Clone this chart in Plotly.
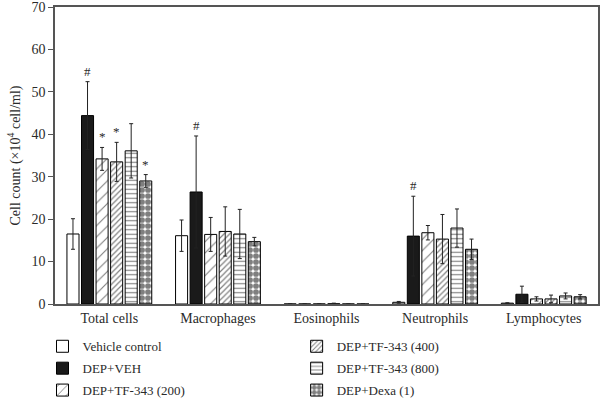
import plotly.graph_objects as go

categories = ["Total cells", "Macrophages", "Eosinophils", "Neutrophils", "Lymphocytes"]

series_names = ["Vehicle control", "DEP+VEH", "DEP+TF-343 (200)",
                "DEP+TF-343 (400)", "DEP+TF-343 (800)", "DEP+Dexa (1)"]

vehicle = [16.5, 16.1, 0.0, 0.4, 0.2]
vehicle_err = [3.6, 3.7, 0.0, 0.2, 0.1]
dep_veh = [44.4, 26.4, 0.0, 16.0, 2.3]
dep_veh_err = [8.0, 13.2, 0.0, 9.4, 1.9]
tf200 = [34.2, 16.4, 0.0, 16.8, 1.2]
tf200_err = [2.7, 4.0, 0.0, 1.7, 0.5]
tf400 = [33.5, 17.1, 0.05, 15.3, 1.2]
tf400_err = [4.6, 5.8, 0.15, 5.8, 0.9]
tf800 = [36.1, 16.5, 0.0, 17.9, 1.9]
tf800_err = [6.4, 5.8, 0.0, 4.5, 0.7]
dexa = [29.0, 14.7, 0.0, 12.9, 1.7]
dexa_err = [1.5, 1.0, 0.0, 2.4, 0.5]

values = [vehicle, dep_veh, tf200, tf400, tf800, dexa]
errors = [vehicle_err, dep_veh_err, tf200_err, tf400_err, tf800_err, dexa_err]

# significance marks: (category, series index, symbol)
marks = [("Total cells", 1, "#"), ("Total cells", 2, "*"), ("Total cells", 3, "*"),
         ("Total cells", 5, "*"), ("Macrophages", 1, "#"), ("Neutrophils", 1, "#")]

y_ticks = [0, 10, 20, 30, 40, 50, 60, 70]

FONT = "Liberation Serif"
INK = "#2a2a2a"
AXIS = "#555555"

patterns = [
    dict(shape=""),
    dict(shape=""),
    dict(shape="/", size=8, solidity=0.14, fgcolor="black", fillmode="overlay"),
    dict(shape="/", size=4, solidity=0.3, fgcolor="black", fillmode="overlay"),
    dict(shape="-", size=4.5, solidity=0.25, fgcolor="black", fillmode="overlay"),
    dict(shape=".", size=6, solidity=0.72, fgcolor="black", fillmode="overlay"),
]
fills = ["white", "#1a1a1a", "white", "white", "white", "white"]
legend_ids = ["legend", "legend", "legend", "legend2", "legend2", "legend2"]

bar_w = 0.111
pitch = 0.134
start = -0.39
offsets = [start + i * pitch for i in range(len(series_names))]

fig = go.Figure()
for i, name in enumerate(series_names):
    fig.add_trace(go.Bar(
        x=categories, y=values[i], name=name,
        width=bar_w, offset=offsets[i],
        marker=dict(color=fills[i], line=dict(color="black", width=1), pattern=patterns[i]),
        error_y=dict(type="data", array=errors[i], visible=True, color="#222222",
                     thickness=1, width=2),
        legend=legend_ids[i], legendgroup=name,
    ))

for cat, si, sym in marks:
    ci = categories.index(cat)
    fig.add_annotation(
        x=ci + offsets[si] + bar_w / 2, y=values[si][ci] + errors[si][ci],
        xref="x", yref="y", text=sym, showarrow=False, yanchor="bottom", yshift=1,
        font=dict(family=FONT, size=13, color=INK),
    )

leg_common = dict(orientation="v", yanchor="top", xanchor="left",
                  font=dict(family=FONT, size=13, color=INK),
                  bgcolor="rgba(0,0,0,0)", tracegroupgap=2, traceorder="grouped",
                  itemwidth=30)

fig.update_layout(
    width=600, height=398,
    margin=dict(l=55, r=2, t=7, b=94, autoexpand=False),
    plot_bgcolor="white", paper_bgcolor="white",
    barmode="overlay",
    showlegend=True,
    legend=dict(x=-0.023, y=-0.092, **leg_common),
    legend2=dict(x=0.445, y=-0.092, **leg_common),
    font=dict(family=FONT, size=13, color=INK),
    xaxis=dict(
        type="category", categoryorder="array", categoryarray=categories,
        showline=True, linecolor=AXIS, linewidth=1.5, mirror=True,
        ticks="", tickfont=dict(family=FONT, size=14, color=INK),
        range=[-0.5, len(categories) - 0.5], showgrid=False, automargin=False,
    ),
    yaxis=dict(
        range=[0, 70], tickvals=y_ticks, ticktext=[str(t) for t in y_ticks],
        showline=True, linecolor=AXIS, linewidth=1.5, mirror=True,
        ticks="outside", ticklen=5, tickcolor=AXIS, showgrid=False, zeroline=False,
        tickfont=dict(family=FONT, size=14, color=INK), automargin=False,
        ticklabeloverflow="allow",
        title=dict(text="Cell count (×10<sup>4</sup> cell/ml)", standoff=8,
                   font=dict(family=FONT, size=14, color=INK)),
    ),
)

fig.write_html("out.html", config={"displayModeBar": False},
               post_script="document.body.style.margin='0';document.body.style.overflow='hidden';")
